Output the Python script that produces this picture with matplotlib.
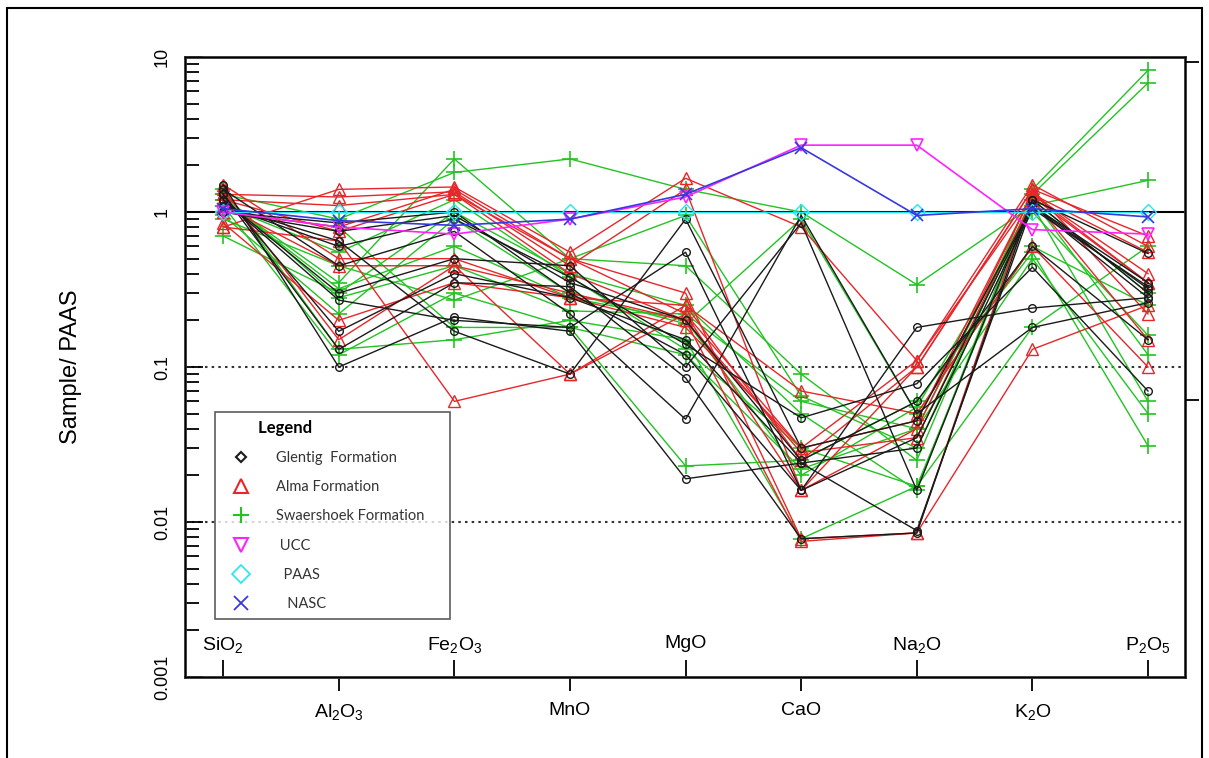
import numpy as np
import matplotlib
matplotlib.use("Agg")
import matplotlib.pyplot as plt
from matplotlib.lines import Line2D
from matplotlib.patches import Rectangle

plt.rcParams['font.family'] = ['Liberation Sans', 'DejaVu Sans']
plt.rcParams['mathtext.fontset'] = 'custom'
plt.rcParams['mathtext.rm'] = 'Liberation Sans'
plt.rcParams['mathtext.it'] = 'Liberation Sans'
plt.rcParams['mathtext.default'] = 'regular'

oxides = ['SiO$_2$', 'Al$_2$O$_3$', 'Fe$_2$O$_3$', 'MnO', 'MgO',
          'CaO', 'Na$_2$O', 'K$_2$O', 'P$_2$O$_5$']

# sample / PAAS, columns in the order of `oxides`
glentig = [
    [1.5, 0.10, 0.21, 0.17, 0.019, 0.024, 0.0088, 1.1, 0.28],
    [1.3, 0.13, 0.35, 0.33, 0.085, 0.0078, 0.0085, 1.2, 0.30],
    [1.2, 0.27, 0.20, 0.18, 0.55, 0.016, 0.18, 0.24, 0.28],
    [1.1, 0.60, 0.90, 0.38, 0.14, 0.047, 0.078, 0.44, 0.07],
    [1.0, 0.85, 1.00, 0.30, 0.12, 0.016, 0.035, 1.1, 0.32],
    [1.4, 0.45, 0.75, 0.22, 0.046, 0.95, 0.050, 0.18, 0.26],
    [1.2, 0.30, 0.50, 0.45, 0.10, 0.85, 0.016, 1.2, 0.54],
    [1.3, 0.17, 0.40, 0.28, 0.15, 0.024, 0.030, 1.05, 0.33],
    [1.1, 0.65, 0.17, 0.09, 0.90, 0.030, 0.045, 1.1, 0.35],
    [1.0, 0.75, 0.95, 0.35, 0.20, 0.025, 0.060, 0.6, 0.15],
]
alma = [
    [0.80, 1.40, 1.45, 0.55, 1.65, 0.80, 0.11, 1.5, 0.60],
    [0.80, 0.65, 0.06, 0.09, 0.22, 0.030, 0.045, 1.3, 0.35],
    [1.30, 1.25, 1.35, 0.45, 1.40, 0.016, 0.10, 1.4, 0.70],
    [1.20, 0.75, 1.30, 0.50, 0.30, 0.0078, 0.0085, 1.3, 0.40],
    [1.50, 0.50, 0.50, 0.28, 0.25, 0.070, 0.050, 0.6, 0.10],
    [1.10, 0.45, 0.45, 0.30, 0.20, 0.028, 0.035, 1.2, 0.15],
    [0.85, 0.20, 0.35, 0.28, 0.18, 0.030, 0.11, 1.25, 0.35],
    [1.40, 0.15, 0.45, 0.09, 0.25, 0.025, 0.10, 1.4, 0.22],
    [1.00, 0.80, 1.40, 0.50, 0.22, 0.016, 0.040, 1.3, 0.55],
    [1.20, 1.10, 1.30, 0.40, 0.20, 0.0075, 0.0085, 0.13, 0.25],
]
swaershoek = [
    [1.30, 0.90, 1.80, 2.20, 1.40, 1.00, 0.34, 1.1, 1.6],
    [1.20, 0.35, 2.20, 0.50, 0.45, 0.090, 0.025, 1.4, 8.2],
    [0.70, 0.30, 1.00, 0.40, 0.25, 0.050, 0.016, 1.3, 6.8],
    [1.10, 0.12, 0.30, 0.18, 0.023, 0.025, 0.060, 0.55, 0.031],
    [1.40, 0.13, 0.15, 0.20, 0.15, 0.0078, 0.017, 0.18, 0.60],
    [1.00, 0.80, 0.18, 0.18, 0.12, 0.022, 0.040, 0.5, 0.050],
    [0.90, 0.45, 0.27, 0.50, 0.95, 0.065, 0.030, 1.2, 0.12],
    [1.20, 0.32, 0.60, 0.28, 0.20, 0.020, 0.055, 1.0, 0.16],
    [1.10, 0.55, 1.20, 0.38, 0.13, 0.030, 0.017, 1.1, 0.060],
    [0.95, 0.22, 0.90, 0.30, 0.19, 0.90, 0.050, 0.6, 0.25],
    [1.30, 0.28, 0.45, 0.23, 0.22, 0.060, 0.040, 1.2, 0.30],
]
ucc = [1.0, 0.80, 0.72, 0.90, 1.25, 2.7, 2.7, 0.77, 0.72]
paas = [1.0, 1.0, 1.0, 1.0, 1.0, 1.0, 1.0, 1.0, 1.0]
nasc = [1.05, 0.88, 0.82, 0.90, 1.30, 2.6, 0.95, 1.05, 0.93]

c_black = '#1a1a1a'
c_red = '#e8262a'
c_green = '#22c322'
c_mag = '#ff22ff'
c_cyan = '#22e6f0'
c_blue = '#3838e0'

fig = plt.figure(figsize=(12.09, 7.58), dpi=100)
ax = fig.add_axes([185/1209, 1-677/758, 1000/1209, 620/758])
x = np.arange(len(oxides))

for row in swaershoek:
    ax.plot(x, row, color=c_green, lw=1, marker='+', ms=11, mew=1.2)
for row in alma:
    ax.plot(x, row, color=c_red, lw=1, marker='^', ms=8, mfc='none', mew=1)
for row in glentig:
    ax.plot(x, row, color=c_black, lw=1, marker='o', ms=5.5, mfc='none', mew=1)

ax.plot(x, paas, color=c_cyan, lw=1, marker='D', ms=8, mfc='none', mew=1)
ax.plot(x, ucc, color=c_mag, lw=1.2, marker='v', ms=9, mfc='none', mew=1.2)
ax.plot(x, nasc, color=c_blue, lw=1.2, marker='x', ms=9, mew=1.2)

ax.axhline(1, color='black', lw=1.5, zorder=1)
ax.axhline(0.1, color='#333333', lw=1.5, ls=(0, (1.2, 2)), zorder=1)
ax.axhline(0.01, color='#333333', lw=1.5, ls=(0, (1.2, 2)), zorder=1)

ax.set_yscale('log')
ax.set_ylim(0.001, 10)
ax.set_xlim(-0.33, 8.32)
ax.set_yticks([0.001, 0.01, 0.1, 1, 10])
ax.set_yticklabels(['0.001', '0.01', '0.1', '1', '10'], rotation=90, va='center', fontsize=13)
ax.tick_params(axis='y', which='major', direction='in', length=13, width=1.3, pad=10)
ax.tick_params(axis='y', which='minor', direction='in', length=10, width=1.3)
ax.set_ylabel('Sample/ PAAS', fontsize=17)
ax.yaxis.set_label_coords(-0.103, 0.5)

# odd categories below the axis, ticks outward
ax.set_xticks(x[1::2])
ax.set_xticklabels(oxides[1::2], fontsize=14)
ax.tick_params(axis='x', direction='out', length=10, width=1.3, pad=8)

# even categories inside the frame, ticks inward
sec = ax.secondary_xaxis('bottom')
sec.set_xticks(x[0::2])
sec.set_xticklabels(oxides[0::2], fontsize=14)
sec.tick_params(axis='x', direction='in', length=12, width=1.3, pad=-30)
sec.spines['bottom'].set_visible(False)

for sp in ax.spines.values():
    sp.set_linewidth(2)
    sp.set_color('#333333')

# right axis with two outward ticks
ax2 = ax.twinx()
ax2.set_yscale('log')
ax2.set_ylim(0.001, 10)
ax2.set_yticks([9.3, 0.061])
ax2.set_yticklabels(['', ''])
ax2.yaxis.set_minor_locator(matplotlib.ticker.NullLocator())
ax2.tick_params(axis='y', direction='out', length=10, width=1.3)

handles = [
    Line2D([], [], ls='none', marker='D', ms=5, mfc='none', mec=c_black, mew=1.5),
    Line2D([], [], ls='none', marker='^', ms=10, mfc='none', mec=c_red, mew=1.5),
    Line2D([], [], ls='none', marker='+', ms=12, mec=c_green, mew=1.5),
    Line2D([], [], ls='none', marker='v', ms=10, mfc='none', mec=c_mag, mew=1.5),
    Line2D([], [], ls='none', marker='D', ms=9, mfc='none', mec=c_cyan, mew=1.2),
    Line2D([], [], ls='none', marker='x', ms=10, mec=c_blue, mew=1.3),
]
labels = ['Glentig  Formation', 'Alma Formation', 'Swaershoek Formation',
          ' UCC', '  PAAS', '   NASC']
leg = ax.legend(handles, labels, loc='upper left', bbox_to_anchor=(0.03, 0.427, 0.235, 0.0),
                mode='expand', frameon=True, fancybox=False, edgecolor='#333333',
                prop={'family': ['Lato', 'DejaVu Sans'], 'size': 10.5},
                title='         Legend', title_fontproperties={'family': ['Lato', 'DejaVu Sans'], 'size': 12, 'weight': 'bold'},
                alignment='left', labelspacing=1.05, handlelength=2.6, handletextpad=1.1,
                borderpad=0.5, borderaxespad=0)
leg.get_frame().set_linewidth(1.2)
for t in leg.get_texts():
    t.set_color('#333333')

fig.add_artist(Rectangle((7/1209, -0.02), 1195/1209, 1.02 - 8/758, transform=fig.transFigure,
                         fill=False, ec='black', lw=1.5))

fig.savefig('out.png', dpi=100)
